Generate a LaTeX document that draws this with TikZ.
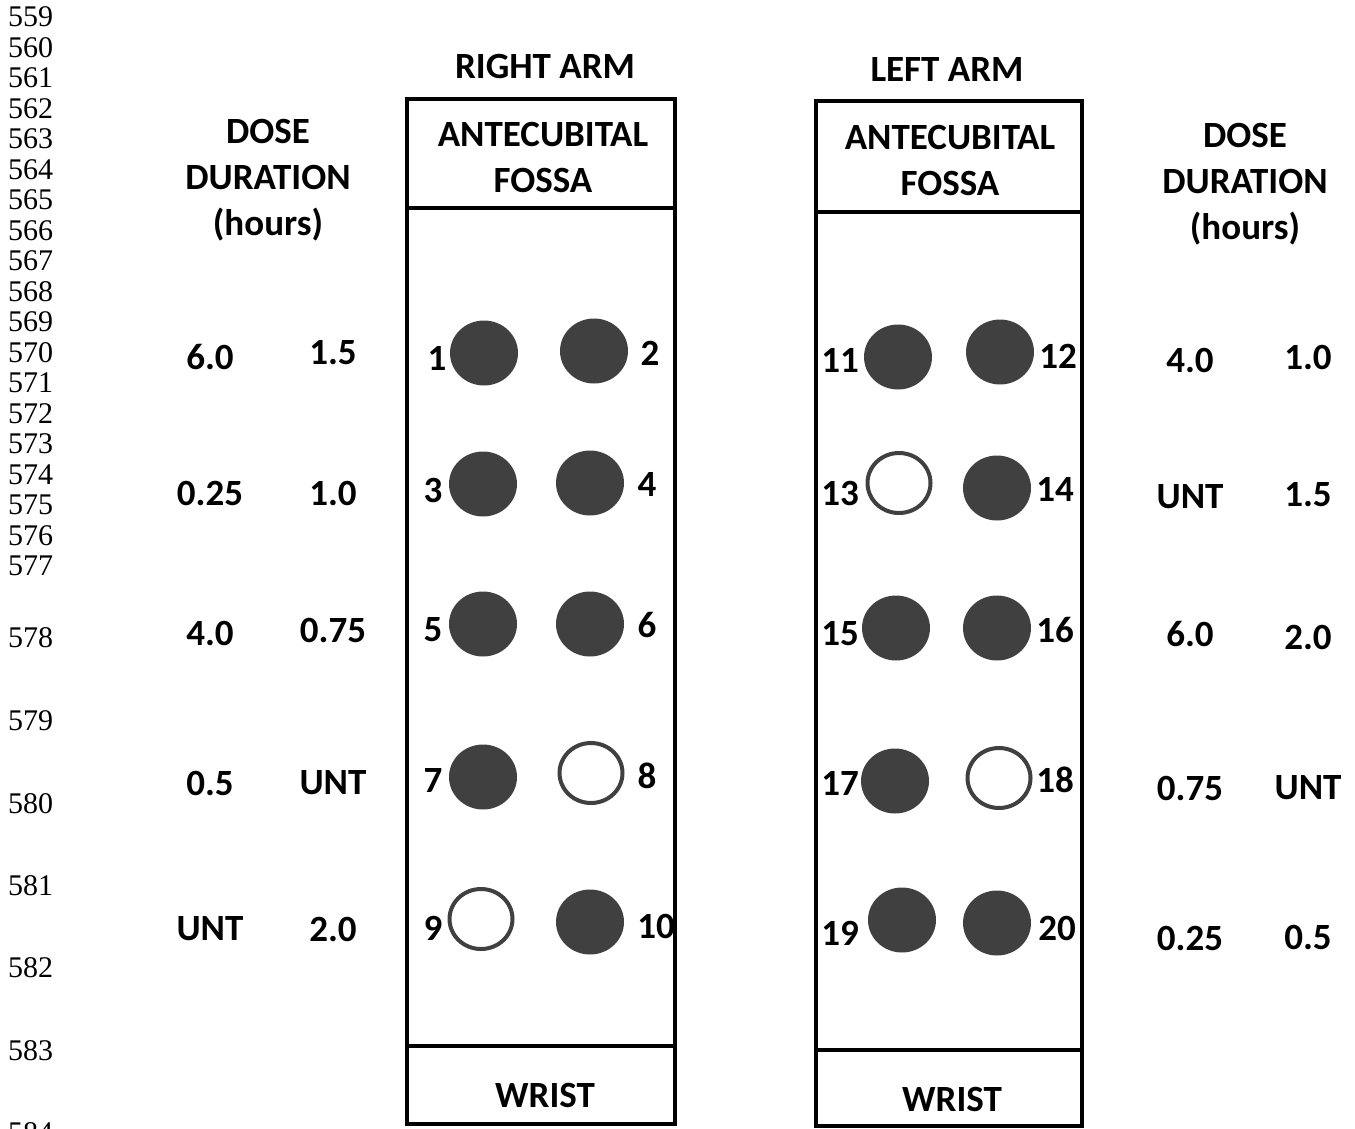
\documentclass[tikz,border=0pt]{standalone}
\usepackage{fontspec}
\setmainfont{Carlito}
\newfontfamily\linenofont{Liberation Serif}
\usetikzlibrary{shapes.geometric,positioning}
\definecolor{spotgray}{HTML}{404040}

\tikzset{
  lbl/.style={font=\fontsize{37}{46}\selectfont\bfseries, inner sep=0pt, align=center},
  lineno/.style={font=\fontsize{30}{30}\selectfont\linenofont, anchor=west, inner sep=0pt},
  spot/.style={ellipse, minimum width=68pt, minimum height=65pt, inner sep=0pt, fill=spotgray},
  nospot/.style={ellipse, minimum width=63pt, minimum height=60pt, inner sep=0pt, draw=spotgray, line width=4pt, fill=white},
  armbox/.style={line width=4.5pt}
}

\begin{document}
\begin{tikzpicture}[x=1pt, y=-1pt]
    \useasboundingbox (0,0) rectangle (1355,1129);

    % Line numbers
    \foreach \n in {559,...,577}
        \node[lineno] (ln\n) at (8,{17+30.5*(\n-559)}) {\n};
    \foreach \n/\y in {578/638,579/721,580/804,581/886,582/968,583/1051,584/1133}
        \node[lineno] (ln\n) at (8,\y) {\n};

    % Right arm
    \node[lbl] (rtitle) at (545,66) {RIGHT ARM};
    \draw[armbox] (407,99) rectangle (675,1124);
    \draw[armbox] (407,208) -- (675,208);
    \draw[armbox] (407,1046) -- (675,1046);
    \node[lbl] (rfossa) at (543,157) {ANTECUBITAL\\FOSSA};
    \node[lbl] (rwrist) at (545,1095) {WRIST};
    \foreach \i/\x/\y/\s/\lx/\ly in {1/484/353/spot/437/358, 2/594/351/spot/650/353,
        3/483/484/spot/433/490, 4/590/483/spot/647/484,
        5/483/624/spot/433/630, 6/590/624/spot/647/625,
        7/483/777/spot/433/780, 8/591/773/nospot/647/776,
        9/481/919/nospot/433/928, 10/590/922/spot/656/926}
    {
        \node[\s] (site\i) at (\x,\y) {};
        \node[lbl] (num\i) at (\lx,\ly) {\i};
    }

    % Left arm
    \node[lbl] (ltitle) at (947,70) {LEFT ARM};
    \draw[armbox] (816,101) rectangle (1082,1126);
    \draw[armbox] (816,212) -- (1082,212);
    \draw[armbox] (816,1050) -- (1082,1050);
    \node[lbl] (lfossa) at (950,160) {ANTECUBITAL\\FOSSA};
    \node[lbl] (lwrist) at (952,1099) {WRIST};
    \foreach \i/\x/\y/\s/\lx/\ly in {11/898/357/spot/840/360, 12/1000/352/spot/1058/356,
        13/899/483/nospot/840/493, 14/997/488/spot/1055/489,
        15/896/628/spot/840/634, 16/997/628/spot/1055/630,
        17/895/781/spot/840/783, 18/999/778/nospot/1055/780,
        19/902/920/spot/840/933, 20/997/923/spot/1057/928}
    {
        \node[\s] (site\i) at (\x,\y) {};
        \node[lbl] (num\i) at (\lx,\ly) {\i};
    }

    % Dose durations, right arm
    \node[lbl] (rhead) at (268,180) {DOSE\\DURATION\\(hours)};
    \foreach \r/\a/\ya/\b/\yb in {1/6.0/357/1.5/353, 2/0.25/493/1.0/493,
        3/4.0/633/0.75/630, 4/0.5/783/UNT/783, 5/UNT/929/2.0/929}
    {
        \node[lbl] (rdoseA\r) at (210,\ya) {\a};
        \node[lbl] (rdoseB\r) at (333,\yb) {\b};
    }

    % Dose durations, left arm
    \node[lbl] (lhead) at (1245,184) {DOSE\\DURATION\\(hours)};
    \foreach \r/\a/\ya/\b/\yb in {1/4.0/360/1.0/357, 2/UNT/497/1.5/495,
        3/6.0/634/2.0/637, 4/0.75/788/UNT/788, 5/0.25/938/0.5/937}
    {
        \node[lbl] (ldoseA\r) at (1190,\ya) {\a};
        \node[lbl] (ldoseB\r) at (1308,\yb) {\b};
    }
\end{tikzpicture}
\end{document}
